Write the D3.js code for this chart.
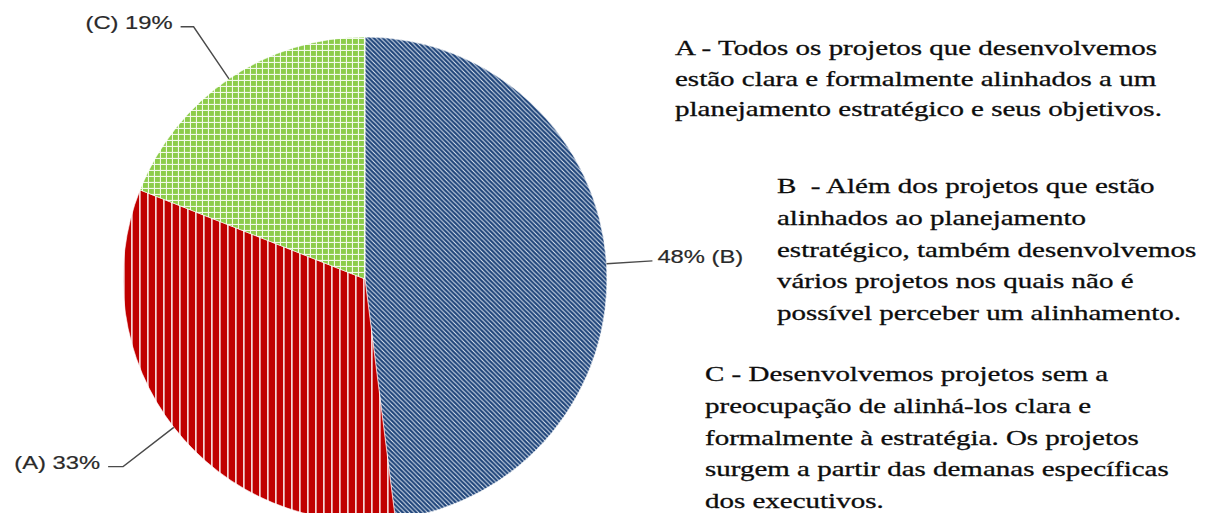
<!DOCTYPE html>
<html>
<head>
<meta charset="utf-8">
<script src="https://cdn.jsdelivr.net/npm/d3@7"></script>
<style>
  html, body { margin: 0; padding: 0; background: #fff; }
  svg { display: block; }
</style>
</head>
<body>
<svg id="chart" width="1205" height="513"></svg>
<script>
// ---- data ----
const categories = ["B", "A", "C"];
const values = [48, 33, 19];
const legendA = [
  "A - Todos os projetos que desenvolvemos",
  "estão clara e formalmente alinhados a um",
  "planejamento estratégico e seus objetivos."
];
const legendB = [
  "B  - Além dos projetos que estão",
  "alinhados ao planejamento",
  "estratégico, também desenvolvemos",
  "vários projetos nos quais não é",
  "possível perceber um alinhamento."
];
const legendC = [
  "C - Desenvolvemos projetos sem a",
  "preocupação de alinhá-los clara e",
  "formalmente à estratégia. Os projetos",
  "surgem a partir das demanas específicas",
  "dos executivos."
];

// ---- layout / style ----
const cx = 365, cy = 279, R = 242;
const svg = d3.select("#chart");
const defs = svg.append("defs");

// patterns
const pB = defs.append("pattern").attr("id", "patB").attr("patternUnits", "userSpaceOnUse")
  .attr("width", 4.5).attr("height", 4.5);
pB.append("rect").attr("width", 4.5).attr("height", 4.5).attr("fill", "#1d4379");
pB.append("path").attr("d", "M-1,-1 L5.5,5.5 M-1,3.5 L1,5.5 M3.5,-1 L5.5,1")
  .attr("stroke", "#dfe7f2").attr("stroke-width", 1.0).attr("fill", "none");

const pA = defs.append("pattern").attr("id", "patA").attr("patternUnits", "userSpaceOnUse")
  .attr("width", 8).attr("height", 8);
pA.append("rect").attr("width", 8).attr("height", 8).attr("fill", "#c00000");
pA.append("rect").attr("x", 6).attr("width", 1.7).attr("height", 8).attr("fill", "#f4d6d6");

const pC = defs.append("pattern").attr("id", "patC").attr("patternUnits", "userSpaceOnUse")
  .attr("width", 6).attr("height", 6);
pC.append("rect").attr("width", 6).attr("height", 6).attr("fill", "#f2f9ea");
pC.append("rect").attr("x", 0).attr("y", 0).attr("width", 4.9).attr("height", 4.9).attr("fill", "#8ccc4a");

const fills = { B: "url(#patB)", A: "url(#patA)", C: "url(#patC)" };

const data = categories.map((c, i) => ({ cat: c, value: values[i] }));
const pie = d3.pie().value(d => d.value).sort(null);
const arcs = pie(data);
const arc = d3.arc().innerRadius(0).outerRadius(R);

const g = svg.append("g").attr("transform", `translate(${cx},${cy})`);
g.selectAll("path.slice").data(arcs).join("path")
  .attr("class", "slice")
  .attr("d", arc)
  .attr("fill", d => fills[d.data.cat])
  .attr("stroke", "#ffffff").attr("stroke-width", 0.6);

// data labels with leaders
const labelCfg = { B: { k: 1.19, stub: 0, gap: 5 }, A: { k: 1.265, stub: 15, gap: 8 }, C: { k: 1.26, stub: 13, gap: 8 } };
const lblSX = 1.25;
arcs.forEach(d => {
  const cfg = labelCfg[d.data.cat];
  const mid = (d.startAngle + d.endAngle) / 2;
  const sx = Math.sin(mid), sy = -Math.cos(mid);
  const right = sx > 0;
  const p0 = [sx * R, sy * R];
  const p1 = [sx * R * cfg.k, sy * R * cfg.k];
  const p2 = [p1[0] + (right ? cfg.stub : -cfg.stub), p1[1]];
  g.append("polyline")
    .attr("points", [p0, p1, p2].map(p => p.join(",")).join(" "))
    .attr("fill", "none").attr("stroke", "#4a4a4a").attr("stroke-width", 1.4);
  const txt = right ? `${d.data.value}% (${d.data.cat})` : `(${d.data.cat}) ${d.data.value}%`;
  const tx = p2[0] + (right ? cfg.gap : -cfg.gap);
  const t = g.append("text")
    .attr("x", tx).attr("y", p2[1] + 2)
    .attr("text-anchor", right ? "start" : "end")
    .attr("font-family", "'Liberation Sans', Arial, sans-serif")
    .attr("font-size", 19)
    .attr("fill", "#2a2a2a")
    .attr("stroke", "#2a2a2a").attr("stroke-width", 0.2)
    .text(txt);
  const len = t.node().getComputedTextLength();
  t.attr("textLength", len * lblSX).attr("lengthAdjust", "spacingAndGlyphs");
});

// legend text blocks
const txtSX = 1.38;
function block(lines, x, y0, lh) {
  const gt = svg.append("g");
  lines.forEach((s, i) => {
    const t = gt.append("text")
      .attr("x", x).attr("y", y0 + i * lh)
      .attr("font-family", "'Liberation Serif', 'Times New Roman', serif")
      .attr("font-size", 21)
      .attr("fill", "#0d0d0d")
      .attr("stroke", "#0d0d0d").attr("stroke-width", 0.3)
      .style("white-space", "pre")
      .text(s);
    const len = t.node().getComputedTextLength();
    t.attr("textLength", len * txtSX).attr("lengthAdjust", "spacingAndGlyphs");
  });
}
block(legendA, 675, 55, 30.5);
block(legendB, 777, 193, 31.8);
block(legendC, 705, 381, 31.8);
</script>
</body>
</html>
